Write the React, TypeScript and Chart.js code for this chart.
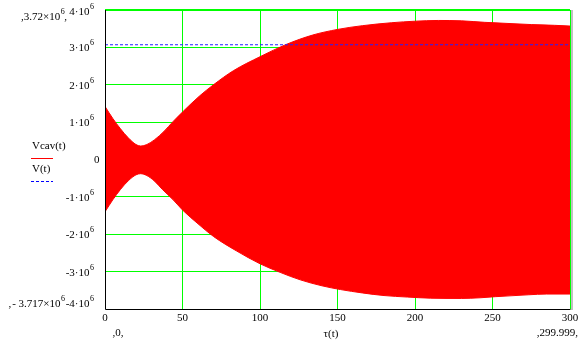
import React, { useEffect, useRef } from "react";
import { Chart, registerables } from "chart.js";

Chart.register(...registerables);

// Envelope of the fast-oscillating Vcav(t) trace (upper and lower edges of the red band)
const cavUpperT = [0, 5, 10, 15, 20, 23, 27, 32, 38, 44, 50, 61, 70, 83, 100, 117, 134, 150, 166, 185, 200, 215, 230, 245, 260, 275, 290, 300];
const cavUpperV = [1.42e6, 1.1e6, 0.82e6, 0.58e6, 0.4e6, 0.36e6, 0.4e6, 0.53e6, 0.75e6, 1.02e6, 1.27e6, 1.7e6, 2.0e6, 2.38e6, 2.75e6, 3.08e6, 3.33e6, 3.48e6, 3.58e6, 3.66e6, 3.7e6, 3.72e6, 3.71e6, 3.67e6, 3.64e6, 3.61e6, 3.59e6, 3.57e6];
const cavLowerT = [0, 5, 10, 15, 20, 23, 27, 32, 37, 44, 50, 60, 70, 85, 100, 113, 126, 140, 152, 166, 180, 195, 210, 230, 242, 252, 273, 285, 300];
const cavLowerV = [-1.4e6, -1.08e6, -0.8e6, -0.57e6, -0.41e6, -0.38e6, -0.43e6, -0.58e6, -0.8e6, -1.08e6, -1.35e6, -1.72e6, -2.06e6, -2.45e6, -2.79e6, -3.02e6, -3.22e6, -3.38e6, -3.48e6, -3.57e6, -3.64e6, -3.68e6, -3.71e6, -3.717e6, -3.7e6, -3.67e6, -3.62e6, -3.6e6, -3.6e6];

// V(t): constant dashed level
const vT = [0, 300];
const vValues = [3.07e6, 3.07e6];

const xTicks = [0, 50, 100, 150, 200, 250, 300];
const yTickMantissas = [-4, -3, -2, -1, 0, 1, 2, 3, 4];
const yMin = -4e6;
const yMax = 4e6;

const legendNames = ["Vcav(t)", "V(t)"];
const xTitle = "\u03c4(t)";
const xMinLimit = "0";
const xMaxLimit = "299.999";
const yMaxLimit = "3.72\u00d710";
const yMinLimit = "- 3.717\u00d710";
const expText = "6";

const FONT = '"Liberation Serif", "Times New Roman", serif';

function drawWithSup(ctx: CanvasRenderingContext2D, base: string, sup: string, rightX: number, cy: number, trail = "") {
  ctx.font = `11px ${FONT}`;
  const bw = ctx.measureText(base).width;
  const tw = trail ? ctx.measureText(trail).width : 0;
  ctx.font = `8px ${FONT}`;
  const sw = ctx.measureText(sup).width;
  const start = rightX - tw - sw - bw;
  ctx.font = `11px ${FONT}`;
  ctx.textAlign = "left";
  ctx.textBaseline = "middle";
  ctx.fillText(base, start, cy);
  if (trail) ctx.fillText(trail, start + bw + sw, cy);
  ctx.font = `8px ${FONT}`;
  ctx.fillText(sup, start + bw + 0.5, cy - 5);
  return start;
}

const overlayPlugin = {
  id: "mathcadOverlay",
  afterDatasetsDraw(chart: any) {
    const { ctx, chartArea: a } = chart;
    ctx.save();
    ctx.strokeStyle = "#000";
    ctx.lineWidth = 1;
    ctx.beginPath();
    ctx.moveTo(a.left + 0.5, a.top);
    ctx.lineTo(a.left + 0.5, a.bottom + 0.5);
    ctx.lineTo(a.right + 0.5, a.bottom + 0.5);
    ctx.stroke();
    ctx.fillStyle = "#c0c0c0";
    ctx.fillRect(a.right + 1, a.top, 2, a.bottom - a.top + 1);
    ctx.restore();
  },
  afterDraw(chart: any) {
    const { ctx } = chart;
    const ys = chart.scales.y;
    ctx.save();
    ctx.fillStyle = "#000";
    // y tick labels
    for (const m of yTickMantissas) {
      let cy = ys.getPixelForValue(m * 1e6) + 1;
      if (m === 4) cy += 1;
      if (m === -4) cy -= 6;
      if (m === 0) {
        ctx.font = `11px ${FONT}`;
        ctx.textAlign = "right";
        ctx.textBaseline = "middle";
        ctx.fillText("0", 99.5, cy);
      } else {
        const base = (m < 0 ? "-" : "") + Math.abs(m) + "\u00b710";
        drawWithSup(ctx, base, expText, 93.5, cy);
      }
    }
    // y limit labels
    const topY = 17;
    const topStart = drawWithSup(ctx, yMaxLimit, expText, 67, topY, ",");
    ctx.font = `11px ${FONT}`;
    ctx.textAlign = "right";
    ctx.fillText(",", topStart, topY);
    const botY = ys.getPixelForValue(yMin) - 5;
    const botStart = drawWithSup(ctx, yMinLimit, expText, 64.5, botY);
    ctx.textAlign = "right";
    ctx.font = `11px ${FONT}`;
    ctx.fillText(",", botStart - 1, botY);

    // x limits and title
    ctx.font = `11px ${FONT}`;
    ctx.textBaseline = "middle";
    ctx.textAlign = "center";
    ctx.fillText("," + xMinLimit + ",", 118, 333);
    ctx.textAlign = "right";
    ctx.fillText("," + xMaxLimit + ",", 578, 333);
    ctx.textAlign = "center";
    ctx.fillText(xTitle, 331, 334);

    // legend
    ctx.textAlign = "left";
    ctx.fillText(legendNames[0], 32, 146);
    ctx.fillText(legendNames[1], 32, 169);
    ctx.strokeStyle = "#ff0000";
    ctx.lineWidth = 1;
    ctx.beginPath();
    ctx.moveTo(31, 158.5);
    ctx.lineTo(53, 158.5);
    ctx.stroke();
    ctx.strokeStyle = "#0000ff";
    ctx.setLineDash([3, 2]);
    ctx.beginPath();
    ctx.moveTo(31, 181.5);
    ctx.lineTo(53, 181.5);
    ctx.stroke();
    ctx.restore();
  },
};

export default function App() {
  const ref = useRef<HTMLCanvasElement | null>(null);

  useEffect(() => {
    if (!ref.current) return;
    const chart = new Chart(ref.current, {
      type: "line",
      data: {
        datasets: [
          {
            label: legendNames[1],
            data: vT.map((t, i) => ({ x: t, y: vValues[i] })),
            borderColor: "#2020ff",
            borderWidth: 1,
            borderDash: [3, 2],
            pointRadius: 0,
            fill: false,
          },
          {
            label: legendNames[0],
            data: cavUpperT.map((t, i) => ({ x: t, y: cavUpperV[i] })),
            borderColor: "#ff0000",
            backgroundColor: "#ff0000",
            borderWidth: 1,
            pointRadius: 0,
            cubicInterpolationMode: "monotone",
            fill: "+1",
          },
          {
            label: legendNames[0] + " lower",
            data: cavLowerT.map((t, i) => ({ x: t, y: cavLowerV[i] })),
            borderColor: "#ff0000",
            borderWidth: 1,
            pointRadius: 0,
            cubicInterpolationMode: "monotone",
            fill: false,
          },
        ],
      },
      options: {
        animation: false,
        responsive: false,
        layout: { padding: { left: 0, top: 10, right: 13, bottom: 0 } },
        plugins: { legend: { display: false }, tooltip: { enabled: false } },
        scales: {
          x: {
            type: "linear",
            min: 0,
            max: 300,
            afterBuildTicks: (s: any) => {
              s.ticks = xTicks.map((v) => ({ value: v }));
            },
            afterFit: (s: any) => {
              s.height = 34;
            },
            ticks: {
              font: { family: FONT, size: 11 },
              color: "#000",
              padding: 3,
              maxRotation: 0,
              autoSkip: false,
            },
            grid: {
              drawTicks: false,
              color: (c: any) => (c.tick && c.tick.value === 0 ? "rgba(0,0,0,0)" : "#00ff00"),
              lineWidth: 1,
            },
            border: { display: false },
          },
          y: {
            type: "linear",
            min: yMin,
            max: yMax,
            afterBuildTicks: (s: any) => {
              s.ticks = yTickMantissas.map((m) => ({ value: m * 1e6 }));
            },
            afterFit: (s: any) => {
              s.width = 105;
            },
            ticks: { display: false },
            grid: {
              drawTicks: false,
              color: (c: any) => (c.tick && c.tick.value === yMin ? "rgba(0,0,0,0)" : "#00ff00"),
              lineWidth: (c: any) => (c.tick && c.tick.value === yMax ? 2 : 1),
            },
            border: { display: false },
          },
        },
      },
      plugins: [overlayPlugin],
    });
    return () => chart.destroy();
  }, []);

  return (
    <div style={{ position: "fixed", left: 0, top: 0, width: 583, height: 343, background: "#fff" }}>
      <canvas ref={ref} width={583} height={343} style={{ display: "block" }} />
    </div>
  );
}
